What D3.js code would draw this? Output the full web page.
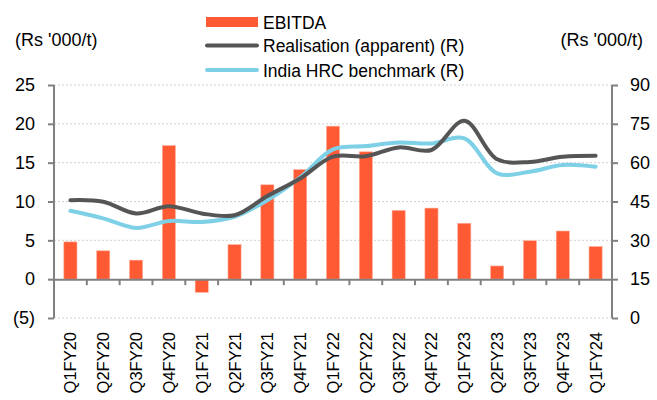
<!DOCTYPE html>
<html>
<head>
<meta charset="utf-8">
<script src="https://cdn.jsdelivr.net/npm/d3@7"></script>
<style>
  body { margin: 0; background: #fff; }
  text { font-family: Arial, "Liberation Sans", sans-serif; fill: #000; }
</style>
</head>
<body>
<div id="chart"></div>
<script>
const quarters = ["Q1FY20", "Q2FY20", "Q3FY20", "Q4FY20", "Q1FY21", "Q2FY21", "Q3FY21", "Q4FY21",
  "Q1FY22", "Q2FY22", "Q3FY22", "Q4FY22", "Q1FY23", "Q2FY23", "Q3FY23", "Q4FY23", "Q1FY24"];
const ebitda = [4.8, 3.65, 2.45, 17.2, -1.7, 4.45, 12.15, 14.1, 19.7, 16.4, 8.85, 9.15, 7.2, 1.7, 4.95, 6.2, 4.2];
const realisation = [45.5, 44.9, 40.4, 43.2, 40.4, 39.7, 47.1, 53.9, 62.3, 62.5, 65.9, 64.9, 76.2, 61.3, 60.3, 62.3, 62.7];
const hrc = [41.4, 38.5, 34.8, 37.5, 37.1, 39.1, 45.5, 54.3, 65.1, 66.4, 67.8, 67.4, 69.4, 55.9, 56.5, 59.1, 58.4];
const leftTicks = [-5, 0, 5, 10, 15, 20, 25];
const rightTicks = [0, 15, 30, 45, 60, 75, 90];

const width = 657, height = 400;
const margin = {top: 85, right: 45, bottom: 82, left: 54};
const innerW = width - margin.left - margin.right;
const innerH = height - margin.top - margin.bottom;

const svg = d3.select("#chart").append("svg")
  .attr("width", width).attr("height", height);
const g = svg.append("g").attr("transform", `translate(${margin.left},${margin.top})`);

const x = d3.scaleBand().domain(quarters).range([0, innerW]);
const yL = d3.scaleLinear().domain([-5, 25]).range([innerH, 0]);
const yR = d3.scaleLinear().domain([0, 90]).range([innerH, 0]);

// gridlines
g.selectAll(".grid").data(leftTicks.filter(d => d !== 0)).join("line")
  .attr("x1", 0).attr("x2", innerW)
  .attr("y1", d => yL(d)).attr("y2", d => yL(d))
  .attr("stroke", "#d0d0d0").attr("stroke-dasharray", "2,2");

// bars
const barW = x.bandwidth() * 0.4;
g.selectAll(".bar").data(quarters).join("rect")
  .attr("x", (d) => x(d) + (x.bandwidth() - barW) / 2)
  .attr("width", barW)
  .attr("y", (d, i) => yL(Math.max(0, ebitda[i])))
  .attr("height", (d, i) => Math.abs(yL(ebitda[i]) - yL(0)))
  .attr("fill", "#ff5a33")
  .attr("stroke", "#ffb09c").attr("stroke-width", 0.6);

// lines
const line = (vals) => d3.line()
  .x((d, i) => x(quarters[i]) + x.bandwidth() / 2)
  .y(d => yR(d))
  .curve(d3.curveCatmullRom.alpha(0.5))(vals);

g.append("path").attr("d", line(hrc)).attr("fill", "none")
  .attr("stroke", "#7ed0e6").attr("stroke-width", 4).attr("stroke-linecap", "round");
g.append("path").attr("d", line(realisation)).attr("fill", "none")
  .attr("stroke", "#555555").attr("stroke-width", 4).attr("stroke-linecap", "round");

// axes
const axisColor = "#808080";
const leftAxis = g.append("g")
  .call(d3.axisLeft(yL).tickValues(leftTicks).tickSize(6).tickPadding(13)
    .tickFormat(d => d < 0 ? `(${-d})` : d));
const rightAxis = g.append("g").attr("transform", `translate(${innerW},0)`)
  .call(d3.axisRight(yR).tickValues(rightTicks).tickSize(6).tickPadding(12));
const xAxis = g.append("g").attr("transform", `translate(0,${yL(0)})`)
  .call(d3.axisBottom(x).tickSize(0).tickFormat(""));

[leftAxis, rightAxis, xAxis].forEach(a => {
  a.select(".domain").attr("stroke", axisColor).attr("stroke-width", 2);
  a.selectAll(".tick line").attr("stroke", axisColor).attr("stroke-width", 2);
  a.selectAll(".tick text").attr("font-size", 18).attr("fill", "#000")
    .attr("font-family", "Arial, 'Liberation Sans', sans-serif");
});
leftAxis.select(".domain").attr("d", `M0,0V${innerH}`);
rightAxis.select(".domain").attr("d", `M0,0V${innerH}`);

// x tick marks between categories
g.selectAll(".xtick").data(quarters.slice(1)).join("line")
  .attr("x1", d => x(d)).attr("x2", d => x(d))
  .attr("y1", yL(0)).attr("y2", yL(0) + 6)
  .attr("stroke", axisColor).attr("stroke-width", 2);

// x labels
g.selectAll(".xlabel").data(quarters).join("text")
  .attr("transform", d => `translate(${x(d) + x.bandwidth() / 2 + 6},${innerH + 14}) rotate(-90)`)
  .attr("text-anchor", "end")
  .attr("font-size", 16.5)
  .text(d => d);

// axis titles
svg.append("text").attr("x", 15).attr("y", 46).attr("font-size", 18).text("(Rs '000/t)");
svg.append("text").attr("x", 643).attr("y", 46).attr("font-size", 18)
  .attr("text-anchor", "end").text("(Rs '000/t)");

// legend
const legend = svg.append("g").attr("transform", "translate(206,0)");
legend.append("rect").attr("x", 0).attr("y", 17).attr("width", 52).attr("height", 10).attr("fill", "#ff5a33");
legend.append("line").attr("x1", 1).attr("x2", 51).attr("y1", 45.5).attr("y2", 45.5)
  .attr("stroke", "#555555").attr("stroke-width", 4).attr("stroke-linecap", "round");
legend.append("line").attr("x1", 1).attr("x2", 51).attr("y1", 70).attr("y2", 70)
  .attr("stroke", "#7ed0e6").attr("stroke-width", 4).attr("stroke-linecap", "round");
const legendLabels = ["EBITDA", "Realisation (apparent) (R)", "India HRC benchmark (R)"];
const legendY = [29, 52, 77];
legend.selectAll(".lt").data(legendLabels).join("text")
  .attr("x", 57).attr("y", (d, i) => legendY[i])
  .attr("font-size", 17.5).text(d => d);
</script>
</body>
</html>
